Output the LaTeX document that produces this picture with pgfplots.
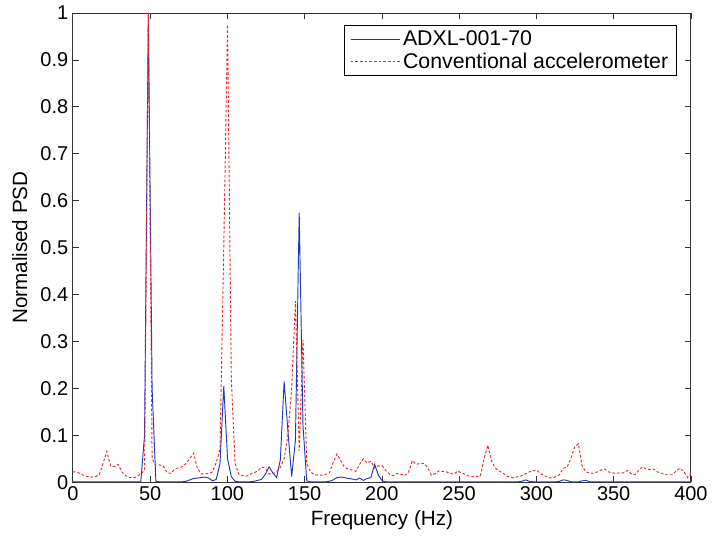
\documentclass[border=0pt]{standalone}
\usepackage{pgfplots}
\usepackage{pgfplotstable}
\pgfplotsset{compat=1.18}
\usepackage{fontspec}
\setmainfont{Liberation Sans}
\usetikzlibrary{calc}
\definecolor{adxlblue}{rgb}{0.12,0.22,0.72}
\definecolor{convred}{rgb}{0.92,0.15,0.15}

\pgfplotstableread{
f adxl conv
0.00 0.001 0.022
2.44 0.001 0.022
4.88 0.001 0.018
7.32 0.001 0.014
9.77 0.001 0.012
12.21 0.001 0.011
14.65 0.001 0.012
17.09 0.001 0.016
19.53 0.001 0.040
21.97 0.001 0.066
24.41 0.001 0.035
26.86 0.001 0.033
29.30 0.001 0.038
31.74 0.001 0.022
34.18 0.001 0.014
36.62 0.001 0.010
39.06 0.001 0.009
41.50 0.001 0.012
43.95 0.001 0.018
46.39 0.100 0.025
48.83 1.000 1.000
51.27 0.200 0.050
53.71 0.002 0.036
56.15 0.001 0.037
58.59 0.001 0.034
61.04 0.001 0.020
63.48 0.001 0.019
65.92 0.001 0.028
68.36 0.001 0.031
70.80 0.001 0.033
73.24 0.002 0.040
75.68 0.005 0.050
78.13 0.008 0.062
80.57 0.009 0.030
83.01 0.010 0.018
85.45 0.011 0.018
87.89 0.009 0.019
90.33 0.003 0.022
92.77 0.006 0.042
95.21 0.040 0.070
97.66 0.205 0.500
100.10 0.050 0.975
102.54 0.012 0.220
104.98 0.002 0.040
107.42 0.001 0.017
109.86 0.001 0.014
112.30 0.001 0.013
114.75 0.001 0.017
117.19 0.002 0.020
119.63 0.004 0.024
122.07 0.006 0.032
124.51 0.017 0.030
126.95 0.033 0.018
129.39 0.020 0.018
131.84 0.010 0.022
134.28 0.048 0.032
136.72 0.215 0.050
139.16 0.110 0.100
141.60 0.012 0.200
144.04 0.090 0.386
146.48 0.574 0.067
148.93 0.120 0.304
151.37 0.003 0.040
153.81 0.001 0.022
156.25 0.001 0.016
158.69 0.001 0.015
161.13 0.001 0.015
163.57 0.001 0.017
166.02 0.002 0.020
168.46 0.005 0.042
170.90 0.010 0.060
173.34 0.011 0.046
175.78 0.010 0.032
178.22 0.008 0.028
180.66 0.007 0.026
183.11 0.005 0.023
185.55 0.009 0.038
187.99 0.004 0.050
190.43 0.008 0.041
192.87 0.010 0.045
195.31 0.038 0.030
197.75 0.015 0.035
200.20 0.003 0.035
202.64 0.001 0.025
205.08 0.001 0.017
207.52 0.001 0.014
209.96 0.001 0.019
212.40 0.001 0.017
214.84 0.001 0.014
217.29 0.001 0.022
219.73 0.001 0.046
222.17 0.001 0.038
224.61 0.001 0.040
227.05 0.001 0.040
229.49 0.001 0.032
231.93 0.001 0.015
234.38 0.001 0.018
236.82 0.001 0.024
239.26 0.001 0.023
241.70 0.001 0.022
244.14 0.001 0.019
246.58 0.001 0.017
249.02 0.001 0.024
251.46 0.001 0.020
253.91 0.001 0.017
256.35 0.001 0.013
258.79 0.001 0.012
261.23 0.001 0.012
263.67 0.001 0.013
266.11 0.001 0.050
268.55 0.001 0.079
271.00 0.001 0.045
273.44 0.001 0.030
275.88 0.001 0.024
278.32 0.001 0.020
280.76 0.001 0.013
283.20 0.001 0.011
285.64 0.001 0.009
288.09 0.001 0.012
290.53 0.002 0.014
292.97 0.005 0.018
295.41 0.002 0.022
297.85 0.001 0.025
300.29 0.001 0.026
302.73 0.001 0.018
305.18 0.001 0.014
307.62 0.001 0.010
310.06 0.001 0.009
312.50 0.001 0.012
314.94 0.002 0.016
317.38 0.005 0.030
319.82 0.004 0.032
322.27 0.001 0.050
324.71 0.001 0.075
327.15 0.001 0.082
329.59 0.003 0.035
332.03 0.004 0.022
334.47 0.001 0.020
336.91 0.001 0.019
339.36 0.001 0.022
341.80 0.001 0.026
344.24 0.001 0.028
346.68 0.001 0.022
349.12 0.001 0.020
351.56 0.001 0.019
354.00 0.001 0.020
356.45 0.001 0.020
358.89 0.001 0.025
361.33 0.001 0.018
363.77 0.001 0.016
366.21 0.001 0.025
368.65 0.001 0.033
371.09 0.001 0.028
373.54 0.001 0.027
375.98 0.001 0.028
378.42 0.001 0.022
380.86 0.001 0.019
383.30 0.001 0.016
385.74 0.001 0.016
388.18 0.001 0.016
390.63 0.001 0.025
393.07 0.001 0.030
395.51 0.001 0.022
397.95 0.001 0.010
400.39 0.001 0.020
}\psdtable

\begin{document}
\begin{tikzpicture}
\begin{axis}[
    scale only axis,
    width=464.25pt,
    height=352.5pt,
    xmin=0, xmax=400,
    ymin=0, ymax=1,
    xtick={0,50,...,400},
    ytick={0,0.1,...,1},
    yticklabels={0,0.1,0.2,0.3,0.4,0.5,0.6,0.7,0.8,0.9,1},
    tick align=inside,
    major tick length=4.5pt,
    axis line style={black!80, line width=0.7pt},
    every tick/.style={black!80, line width=0.6pt},
    /pgf/number format/assume math mode=true,
    tick label style={font=\fontsize{15}{18}\selectfont},
    label style={font=\fontsize{15.5}{18}\selectfont},
    xlabel={Frequency (Hz)},
    ylabel={Normalised PSD},
    ylabel shift=3pt,
    legend style={at={(0.977,0.974)}, anchor=north east,
        font=\fontsize{16}{18.5}\selectfont, draw=black, line width=0.7pt,
        inner xsep=4pt, inner ysep=2pt, row sep=0pt},
    legend cell align=left,
    legend image code/.code={\draw[#1] (0pt,0pt) -- (37pt,0pt);},
]
\addplot[adxlblue, line width=0.7pt] table[x=f, y=adxl] {\psdtable};
\addlegendentry{ADXL-001-70}
\addplot[convred, line width=0.7pt, dash pattern=on 2pt off 1.5pt] table[x=f, y=conv] {\psdtable};
\addlegendentry{Conventional accelerometer}
\coordinate (sw) at (rel axis cs:0,0);
\coordinate (ne) at (rel axis cs:1,1);
\end{axis}
\path ($(sw)+(-54.75pt,-45pt)$) rectangle ($(ne)+(15pt,9.75pt)$);
\end{tikzpicture}
\end{document}
